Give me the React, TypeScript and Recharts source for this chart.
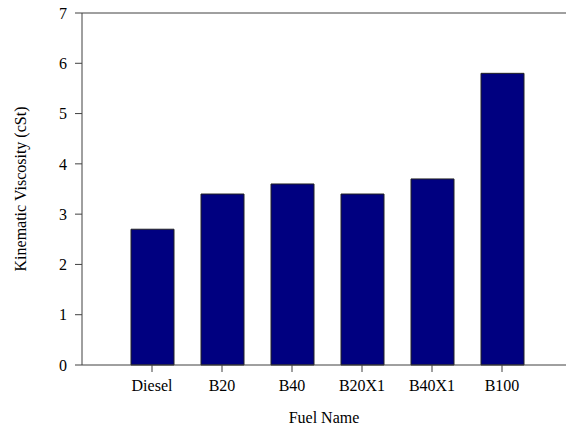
import { BarChart, Bar, XAxis, YAxis, ReferenceLine } from "recharts"

const fuels = ["Diesel", "B20", "B40", "B20X1", "B40X1", "B100"]
const viscosity = [2.7, 3.4, 3.6, 3.4, 3.7, 5.8]
const yTicks = [0, 1, 2, 3, 4, 5, 6, 7]

const data = fuels.map((fuel, i) => ({ fuel, value: viscosity[i] }))

const font = "Liberation Serif"
const axisColor = "#404040"

export default function App() {
  return (
    <div style={{ position: "absolute", left: 0, top: 0, background: "#fff", fontFamily: font }}>
      <BarChart
        width={566}
        height={429}
        data={data}
        margin={{ top: 13, right: 0, bottom: 0, left: 0 }}
        barSize={43}
        style={{ fontFamily: font }}
      >
        <XAxis
          dataKey="fuel"
          height={64}
          padding={{ left: 35, right: 29 }}
          stroke={axisColor}
          tickSize={7}
          tickMargin={8}
          tick={{ fill: "#000", fontSize: 16, fontFamily: font }}
          label={{
            value: "Fuel Name",
            position: "insideBottom",
            offset: 6,
            style: { fill: "#000", fontSize: 16, fontFamily: font },
          }}
        />
        <YAxis
          width={82}
          domain={[0, 7]}
          ticks={yTicks}
          stroke={axisColor}
          tickSize={7}
          tickMargin={8}
          tick={{ fill: "#000", fontSize: 16, fontFamily: font }}
          label={{
            value: "Kinematic Viscosity (cSt)",
            angle: -90,
            position: "insideLeft",
            offset: 20,
            style: { fill: "#000", fontSize: 16, fontFamily: font, textAnchor: "middle" },
          }}
        />
        <ReferenceLine y={7} stroke={axisColor} />
        <Bar dataKey="value" fill="#000080" stroke="#222" strokeWidth={1} isAnimationActive={false} />
      </BarChart>
    </div>
  )
}
